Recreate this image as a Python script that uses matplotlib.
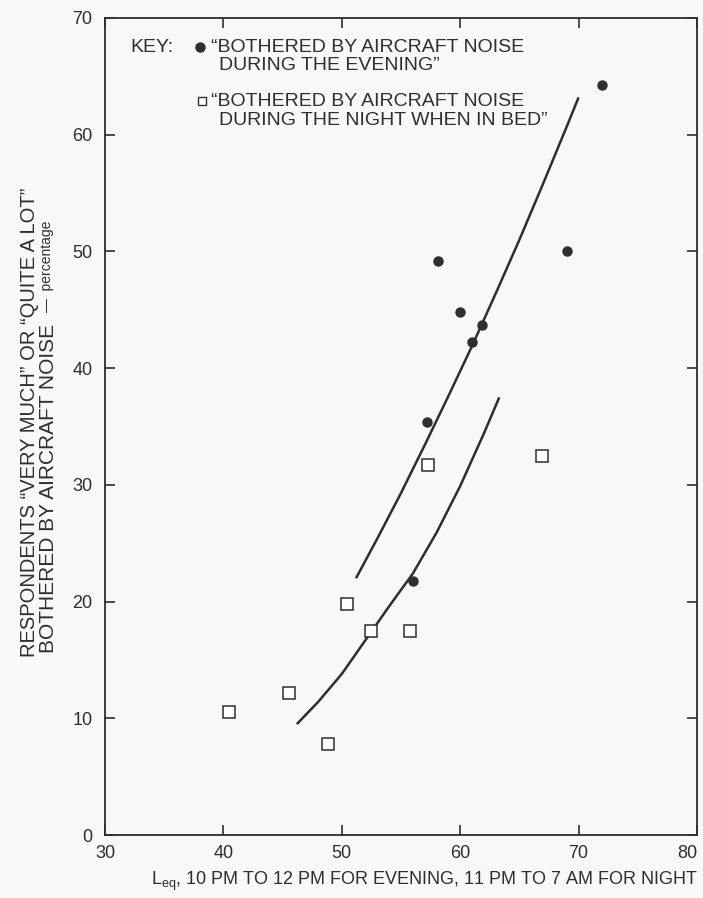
import matplotlib.pyplot as plt

plt.rcParams['font.family'] = ['Liberation Sans', 'DejaVu Sans']
plt.rcParams['mathtext.fontset'] = 'custom'
plt.rcParams['mathtext.rm'] = 'Liberation Sans'

# "bothered during the evening" (filled circles)
evening_x = [72.0, 69.0, 58.1, 60.0, 61.8, 61.0, 57.2, 56.0]
evening_y = [64.3, 50.0, 49.2, 44.8, 43.7, 42.2, 35.4, 21.8]

# "bothered during the night when in bed" (open squares)
night_x = [57.3, 66.9, 50.4, 52.5, 55.8, 45.5, 40.5, 48.8]
night_y = [31.7, 32.5, 19.8, 17.5, 17.5, 12.2, 10.5, 7.8]

# hand-drawn fitted curves
evening_curve_x = [51.2, 53, 55, 57, 59, 61, 63, 65, 67, 69, 70]
evening_curve_y = [22.0, 25.4, 29.3, 33.4, 37.6, 41.9, 46.4, 51.0, 55.8, 60.7, 63.2]
night_curve_x = [46.2, 48, 50, 52, 54, 56, 58, 60, 62, 63.3]
night_curve_y = [9.5, 11.4, 13.8, 16.7, 19.6, 22.4, 25.9, 29.9, 34.4, 37.5]

xticks = [30, 40, 50, 60, 70, 80]
yticks = [0, 10, 20, 30, 40, 50, 60, 70]

ink = '#2e2e2e'
bg = '#f8f8f6'
W, H = 703, 898

fig = plt.figure(figsize=(W / 100, H / 100), dpi=100, facecolor=bg)
ax = fig.add_axes([105 / W, 63 / H, 592 / W, 817 / H], facecolor=bg)

ax.plot(evening_curve_x, evening_curve_y, color=ink, lw=1.8, solid_capstyle='butt')
ax.plot(night_curve_x, night_curve_y, color=ink, lw=1.8, solid_capstyle='butt')
ax.plot(evening_x, evening_y, 'o', ms=6.5, color=ink, mec=ink)
ax.plot(night_x, night_y, 's', ms=8, mfc='white', mec=ink, mew=1.1)

ax.set_xlim(30, 80)
ax.set_ylim(0, 70)
ax.set_xticks(xticks)
ax.set_yticks(yticks)
ax.tick_params(direction='in', length=7, width=1.2, color=ink, labelcolor=ink,
               labelsize=13, top=True, right=True)
ax.tick_params(axis='y', pad=9)
ax.tick_params(axis='x', pad=7)
ax.get_xticklabels()[-1].set_horizontalalignment('right')
for s in ax.spines.values():
    s.set_color(ink)
    s.set_linewidth(1.3)

ax.set_xlabel(r'L$_{\rm eq}$, 10 PM TO 12 PM FOR EVENING, 11 PM TO 7 AM FOR NIGHT',
              fontsize=13, color=ink)
ax.xaxis.set_label_coords((425 - 105) / 592, -0.043)

# key
def fy(py):
    return 1 - py / H

key_fs = 14
fig.text(130 / W, fy(48), 'KEY:', fontsize=key_fs, color=ink, va='center')
fig.lines.append(plt.Line2D([200 / W], [fy(47)], marker='o', ms=6.5, color=ink,
                            transform=fig.transFigure))
fig.text(211 / W, fy(48), '\u201cBOTHERED BY AIRCRAFT NOISE', fontsize=key_fs,
         color=ink, va='center')
fig.text(219 / W, fy(66), 'DURING THE EVENING\u201d', fontsize=key_fs,
         color=ink, va='center')
fig.lines.append(plt.Line2D([202 / W], [fy(101)], marker='s', ms=6, mfc='white',
                            mec=ink, mew=1.0, transform=fig.transFigure))
fig.text(211 / W, fy(102), '\u201cBOTHERED BY AIRCRAFT NOISE', fontsize=key_fs,
         color=ink, va='center')
fig.text(219 / W, fy(120), 'DURING THE NIGHT WHEN IN BED\u201d', fontsize=key_fs,
         color=ink, va='center')

# y label, two lines, the second with a small "percentage"
fig.text(30 / W, fy(422), 'RESPONDENTS \u201cVERY MUCH\u201d OR \u201cQUITE A LOT\u201d',
         rotation=90, fontsize=14.5, color=ink, ha='center', va='center')
fig.text(48 / W, fy(653), 'BOTHERED BY AIRCRAFT NOISE', rotation=90,
         rotation_mode='anchor', fontsize=15, color=ink, ha='left', va='center')
fig.text(47 / W, fy(312), '\u2014  percentage', rotation=90,
         rotation_mode='anchor', fontsize=10, color=ink, ha='left', va='center')

fig.savefig('out.png', dpi=100, facecolor=bg)
